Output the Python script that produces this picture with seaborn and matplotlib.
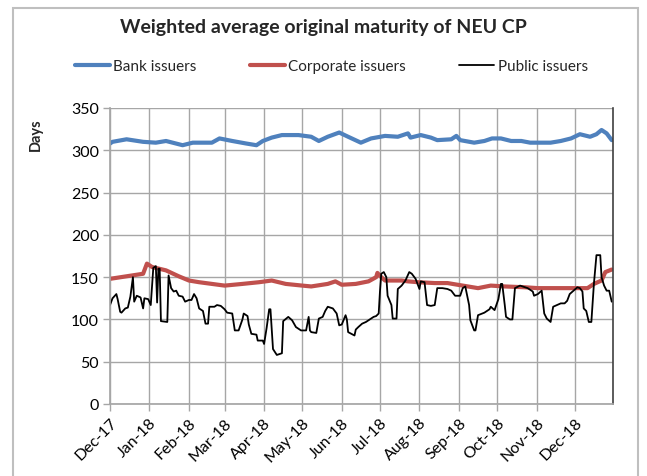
import pandas as pd
import matplotlib
matplotlib.use("Agg")
import matplotlib.pyplot as plt
import matplotlib.dates as mdates
from matplotlib.patches import Rectangle
import seaborn as sns

# Bank issuers (days)
bank_dates = ["2017-12-01", "2017-12-03", "2017-12-14", "2017-12-27", "2018-01-06", "2018-01-14",
              "2018-01-27", "2018-02-04", "2018-02-19", "2018-02-25", "2018-03-07", "2018-03-18",
              "2018-03-26", "2018-03-31", "2018-04-07", "2018-04-15", "2018-04-28", "2018-05-08",
              "2018-05-14", "2018-05-21", "2018-05-30", "2018-06-06", "2018-06-16", "2018-06-24",
              "2018-07-05", "2018-07-15", "2018-07-23", "2018-07-25", "2018-08-02", "2018-08-10",
              "2018-08-15", "2018-08-26", "2018-08-30", "2018-09-02", "2018-09-13", "2018-09-21",
              "2018-09-27", "2018-10-04", "2018-10-12", "2018-10-20", "2018-10-27", "2018-11-07",
              "2018-11-12", "2018-11-20", "2018-11-28", "2018-12-05", "2018-12-13", "2018-12-18",
              "2018-12-22", "2018-12-26", "2018-12-30"]
bank_values = [308, 310, 313, 310, 309, 311, 306, 309, 309, 314, 311, 308,
               306, 311, 315, 318, 318, 316, 311, 316, 321, 316, 309, 314,
               317, 316, 320, 315, 318, 315, 312, 313, 317, 312, 309, 311,
               314, 314, 311, 311, 309, 309, 309, 311, 314, 319, 316, 319,
               324, 320, 312]

# Corporate issuers (days)
corp_dates = ["2017-12-01", "2017-12-27", "2017-12-30", "2018-01-03", "2018-01-14", "2018-01-24",
              "2018-02-01", "2018-02-09", "2018-03-01", "2018-03-15", "2018-03-28", "2018-04-07",
              "2018-04-18", "2018-05-01", "2018-05-08", "2018-05-21", "2018-05-27", "2018-06-01",
              "2018-06-12", "2018-06-22", "2018-06-28", "2018-06-29", "2018-07-02", "2018-07-05",
              "2018-07-18", "2018-07-23", "2018-07-31", "2018-08-13", "2018-08-23", "2018-08-31",
              "2018-09-16", "2018-09-26", "2018-10-07", "2018-10-23", "2018-11-02", "2018-11-15",
              "2018-12-03", "2018-12-11", "2018-12-16", "2018-12-22", "2018-12-25", "2018-12-30"]
corp_values = [148, 154, 166, 162, 158, 151, 146, 144, 140, 142, 144, 146,
               142, 140, 139, 142, 145, 141, 142, 145, 150, 155, 150, 146,
               146, 145, 144, 143, 143, 141, 137, 140, 139, 138, 137, 137,
               137, 137, 142, 146, 156, 159]

# Public issuers (days)
pub_dates = ["2017-12-01", "2017-12-03", "2017-12-06", "2017-12-07", "2017-12-09", "2017-12-10",
             "2017-12-13", "2017-12-15", "2017-12-17", "2017-12-19", "2017-12-20", "2017-12-22",
             "2017-12-25", "2017-12-27", "2017-12-28", "2017-12-31", "2018-01-02", "2018-01-04",
             "2018-01-06", "2018-01-07", "2018-01-08", "2018-01-09", "2018-01-10", "2018-01-15",
             "2018-01-16", "2018-01-18", "2018-01-20", "2018-01-22", "2018-01-24", "2018-01-27",
             "2018-01-29", "2018-02-01", "2018-02-03", "2018-02-05", "2018-02-07", "2018-02-09",
             "2018-02-12", "2018-02-14", "2018-02-16", "2018-02-17", "2018-02-21", "2018-02-23",
             "2018-02-26", "2018-03-01", "2018-03-03", "2018-03-07", "2018-03-09", "2018-03-12",
             "2018-03-15", "2018-03-16", "2018-03-19", "2018-03-20", "2018-03-22", "2018-03-26",
             "2018-03-27", "2018-03-31", "2018-04-01", "2018-04-03", "2018-04-05", "2018-04-06",
             "2018-04-08", "2018-04-11", "2018-04-15", "2018-04-16", "2018-04-20", "2018-04-23",
             "2018-04-26", "2018-04-30", "2018-05-04", "2018-05-06", "2018-05-07", "2018-05-08",
             "2018-05-12", "2018-05-14", "2018-05-17", "2018-05-19", "2018-05-21", "2018-05-25",
             "2018-05-28", "2018-05-30", "2018-06-01", "2018-06-04", "2018-06-05", "2018-06-06",
             "2018-06-11", "2018-06-12", "2018-06-14", "2018-06-17", "2018-06-20", "2018-06-23",
             "2018-06-26", "2018-06-28", "2018-06-30", "2018-07-01", "2018-07-02", "2018-07-04",
             "2018-07-06", "2018-07-07", "2018-07-10", "2018-07-11", "2018-07-14", "2018-07-15",
             "2018-07-18", "2018-07-21", "2018-07-24", "2018-07-26", "2018-07-29", "2018-07-31",
             "2018-08-01", "2018-08-02", "2018-08-05", "2018-08-07", "2018-08-10", "2018-08-13",
             "2018-08-15", "2018-08-19", "2018-08-23", "2018-08-26", "2018-08-29", "2018-09-02",
             "2018-09-04", "2018-09-06", "2018-09-09", "2018-09-10", "2018-09-13", "2018-09-14",
             "2018-09-16", "2018-09-21", "2018-09-25", "2018-09-26", "2018-09-29", "2018-10-02",
             "2018-10-04", "2018-10-05", "2018-10-07", "2018-10-08", "2018-10-11", "2018-10-13",
             "2018-10-15", "2018-10-19", "2018-10-25", "2018-10-29", "2018-10-30", "2018-11-02",
             "2018-11-05", "2018-11-07", "2018-11-09", "2018-11-12", "2018-11-14", "2018-11-20",
             "2018-11-23", "2018-11-25", "2018-11-27", "2018-11-30", "2018-12-03", "2018-12-05",
             "2018-12-07", "2018-12-08", "2018-12-10", "2018-12-12", "2018-12-14", "2018-12-16",
             "2018-12-18", "2018-12-21", "2018-12-22", "2018-12-24", "2018-12-26", "2018-12-28",
             "2018-12-30"]
pub_values = [117, 125, 130, 124, 109, 108,
              113, 114, 127, 150, 121, 128,
              126, 113, 125, 124, 117, 161,
              163, 120, 160, 160, 98, 97,
              152, 137, 133, 134, 128, 127,
              121, 123, 123, 130, 125, 113,
              110, 95, 95, 115, 115, 117,
              116, 112, 108, 107, 87, 87,
              100, 107, 104, 94, 83, 82,
              75, 75, 71, 90, 112, 112,
              65, 58, 60, 98, 103, 99,
              91, 87, 87, 103, 87, 85,
              84, 101, 103, 110, 115, 113,
              107, 93, 94, 105, 100, 85,
              81, 88, 91, 95, 97, 100,
              103, 104, 107, 133, 154, 156,
              150, 128, 117, 101, 101, 136,
              140, 146, 156, 154, 148, 140,
              136, 145, 144, 117, 116, 117,
              137, 137, 136, 134, 128, 128,
              137, 139, 117, 99, 87, 87,
              105, 108, 112, 115, 111, 124,
              142, 142, 117, 103, 100, 100,
              137, 140, 137, 133, 128, 130,
              134, 107, 101, 97, 115, 119,
              119, 122, 130, 134, 138, 137,
              133, 113, 110, 97, 97, 142,
              176, 176, 150, 140, 134, 134,
              121]

y_ticks = [0, 50, 100, 150, 200, 250, 300, 350]

bank = pd.DataFrame({"date": pd.to_datetime(bank_dates), "days": bank_values})
corp = pd.DataFrame({"date": pd.to_datetime(corp_dates), "days": corp_values})
pub = pd.DataFrame({"date": pd.to_datetime(pub_dates), "days": pub_values})

sns.set_theme(style="whitegrid")
plt.rcParams["font.family"] = ["Lato", "DejaVu Sans"]

fig = plt.figure(figsize=(6.47, 4.77), dpi=100)
ax = fig.add_axes([110 / 647, 1 - 405 / 477, 503 / 647, 296 / 477])

sns.lineplot(data=bank, x="date", y="days", ax=ax, color="#4f81bd", linewidth=3.0, label="Bank issuers")
sns.lineplot(data=corp, x="date", y="days", ax=ax, color="#c0504d", linewidth=3.0, label="Corporate issuers")
sns.lineplot(data=pub, x="date", y="days", ax=ax, color="black", linewidth=1.3, label="Public issuers")

ax.set_xlim(pd.Timestamp("2017-12-01"), pd.Timestamp("2018-12-31"))
ax.set_ylim(0, 350)
ax.set_yticks(y_ticks)
ax.xaxis.set_major_locator(mdates.MonthLocator(bymonthday=1))
ax.xaxis.set_major_formatter(mdates.DateFormatter("%b-%y"))
plt.setp(ax.get_xticklabels(), rotation=45, ha="right", rotation_mode="anchor")

ax.grid(True, color="#a6a6a6", linewidth=1.0)
ax.tick_params(axis="both", which="major", length=5, width=1, color="#a6a6a6",
               labelsize=11.5, labelcolor="black", pad=3, direction="out")
ax.tick_params(axis="x", bottom=True)
ax.tick_params(axis="y", left=True)
ax.set_xlabel("")
ax.set_ylabel("")
for side in ["left", "bottom"]:
    ax.spines[side].set_color("#a6a6a6")
ax.spines["top"].set_visible(False)
ax.spines["right"].set_color("#404040")
ax.spines["right"].set_linewidth(1.2)

ax.get_legend().remove()
handles, labels = ax.get_legend_handles_labels()
fig.legend(handles, labels, loc="center", bbox_to_anchor=(0.512, 1 - 67 / 477), ncol=3,
           frameon=False, fontsize=11, handlelength=2.3, handletextpad=0.2, columnspacing=3.5)

fig.text(0.5, 1 - 28 / 477, "Weighted average original maturity of NEU CP",
         ha="center", va="center", fontsize=14, fontweight="bold")
fig.text(36 / 647, 1 - 135 / 477, "Days", rotation=90, ha="center", va="center",
         fontsize=10.5, fontweight="bold")

fig.patches.append(Rectangle((13 / 647, -0.02), 625 / 647, 1.02 - 9 / 477,
                             transform=fig.transFigure, fill=False,
                             edgecolor="#bfbfbf", linewidth=1.5))

fig.savefig("out.png", dpi=100)
